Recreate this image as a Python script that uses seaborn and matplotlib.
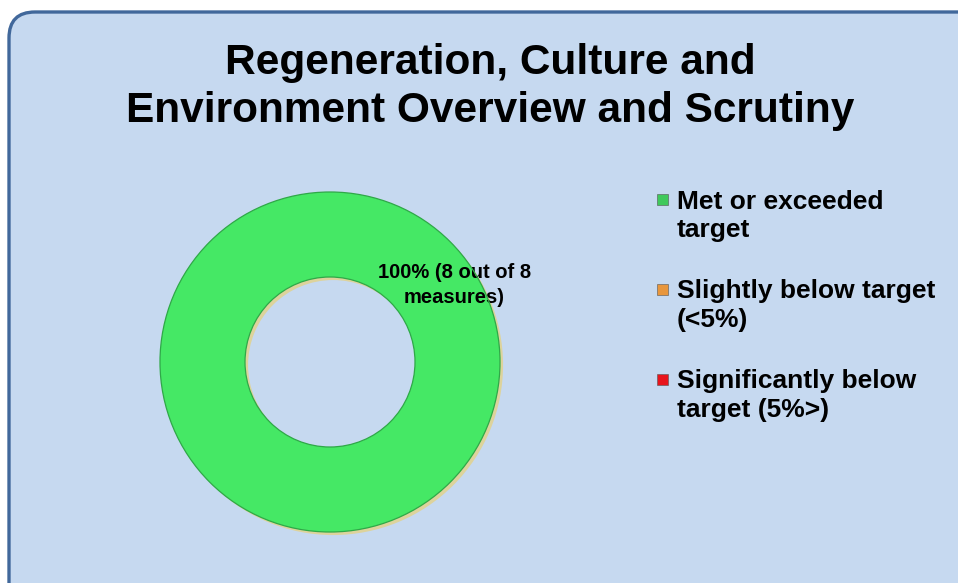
import matplotlib
matplotlib.use("Agg")
import matplotlib.pyplot as plt
from matplotlib.patches import FancyBboxPatch, Patch, Rectangle, Circle
from matplotlib.legend_handler import HandlerPatch
import seaborn as sns

# ---- data ----
categories = ["Met or exceeded\ntarget", "Slightly below target\n(<5%)", "Significantly below\ntarget (5%>)"]
measures = [8, 0, 0]
colors = ["#45e865", "#e8963c", "#e8141c"]
legend_colors = ["#3fc95c", "#e8963c", "#e8141c"]
title = "Regeneration, Culture and\nEnvironment Overview and Scrutiny"

sns.set_theme(style="white")
plt.rcParams['font.family'] = ['Liberation Sans', 'DejaVu Sans']

W, H, DPI = 958, 583, 100
fig = plt.figure(figsize=(W / DPI, H / DPI), dpi=DPI, facecolor="white")

# rounded panel background
panel = FancyBboxPatch((9 / DPI, -0.5), 10, (H - 12) / DPI + 0.5,
                       boxstyle="round,pad=0,rounding_size=0.26",
                       transform=fig.dpi_scale_trans, facecolor="#c6d9f0",
                       edgecolor="#41689b", linewidth=2.4, zorder=-10)
fig.patches.append(panel)

fig.text(490 / W, 1 - 87 / H, title, ha="center", va="center", fontsize=30.5,
         fontweight="bold", color="black", linespacing=1.27)

# donut axes
cx, cy, R = 330, 362, 170
half = 180
ax = fig.add_axes([(cx - half) / W, (H - cy - half) / H, 2 * half / W, 2 * half / H])
ax.set_facecolor("none")
total = sum(measures)
ring = 0.5

def fmt(p):
    n = round(p * total / 100)
    return f"{p:.0f}% ({n} out of {total}\nmeasures)" if n > 0 else ""

# subtle shadow
ax.pie(measures, colors=["#ddd39c", "none", "none"], radius=1.0, center=(0.018, -0.018),
       wedgeprops=dict(width=ring, linewidth=0), startangle=-148.4)
wedges, texts, autotexts = ax.pie(
    measures, colors=colors, radius=1.0, startangle=-148.4,
    wedgeprops=dict(width=ring, linewidth=0),
    autopct=fmt, pctdistance=0.86,
    textprops=dict(fontsize=14.5, fontweight="bold", color="black"))
for t in autotexts:
    t.set_linespacing(1.4)
# bevel-like outlines of the ring
for r in (1.0, 1.0 - ring):
    ax.add_patch(Circle((0, 0), r, fill=False, edgecolor="#2fa848", linewidth=0.9, zorder=3))
lim = half / R
ax.set_xlim(-lim, lim)
ax.set_ylim(-lim, lim)
ax.set_aspect("equal")
ax.axis("off")


def top_square(legend, orig_handle, xdescent, ydescent, width, height, fontsize):
    s = 0.42 * fontsize
    return Rectangle((-xdescent, -ydescent + 0.66 * fontsize), s, s)


handles = [Patch(facecolor=c, edgecolor="#555555", linewidth=0.4) for c in legend_colors]
leg = fig.legend(handles, categories, loc="upper left", bbox_to_anchor=(646 / W, 1 - 179 / H),
                 frameon=False, prop=dict(size=19, weight="bold"), labelspacing=1.4,
                 handlelength=0.42, handleheight=0.42, handletextpad=0.34, borderaxespad=0,
                 handler_map={Patch: HandlerPatch(patch_func=top_square)})
for t in leg.get_texts():
    t.set_linespacing(1.25)
    t.set_color("black")

fig.savefig("out.png", dpi=DPI, facecolor="white")
